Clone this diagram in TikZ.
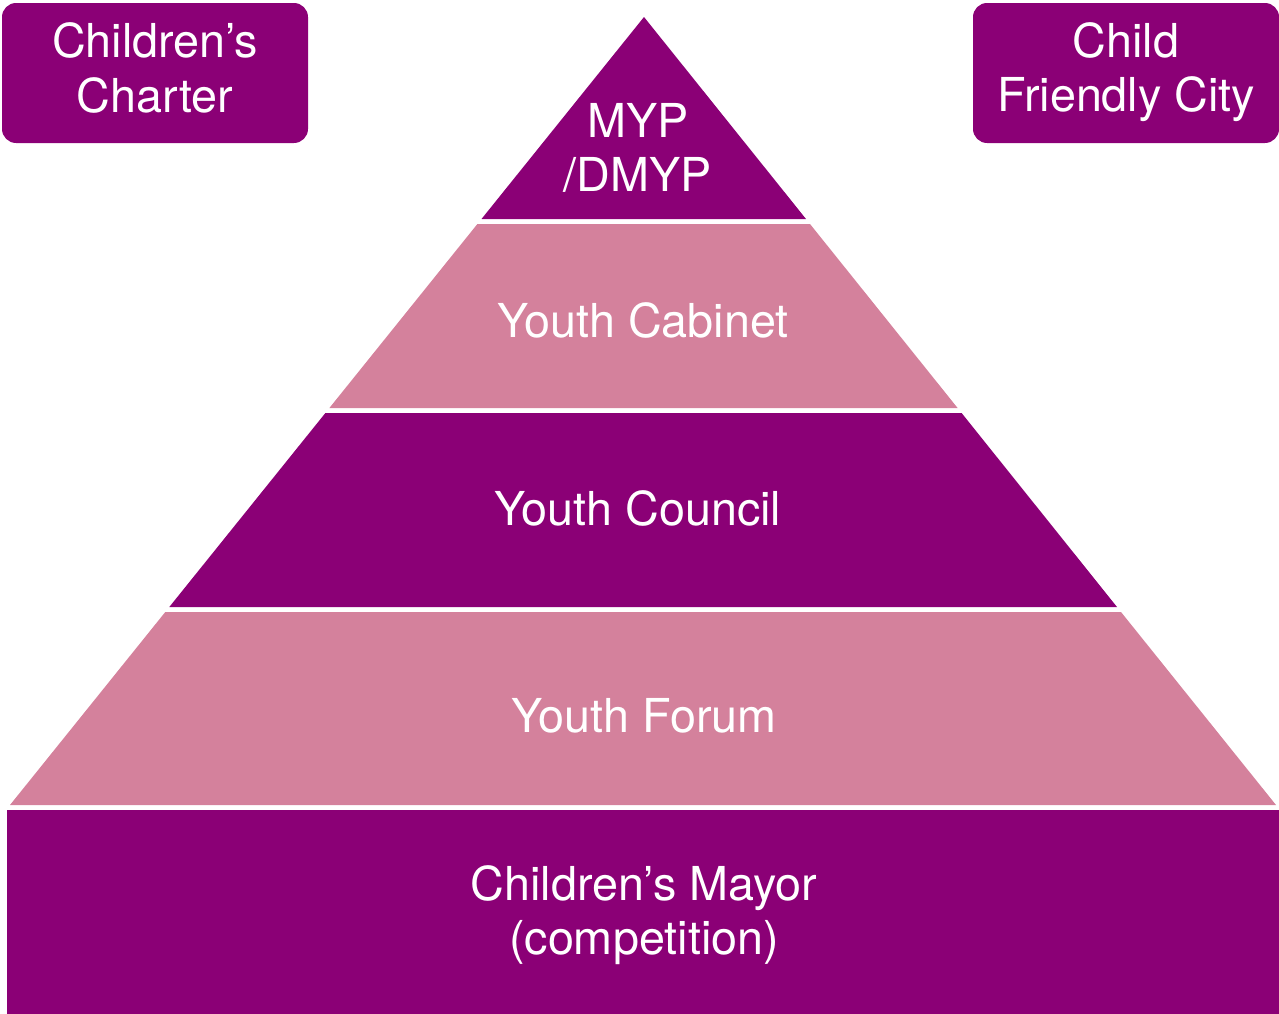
\documentclass[tikz,border=0pt]{standalone}
\usepackage{fontspec}
\setmainfont{TeX Gyre Heros}
\usepackage{tikz}
\definecolor{plum}{HTML}{8B0076}
\definecolor{rose}{HTML}{D4819C}
\tikzstyle{label} = [text=white, inner sep=0pt, align=center, font=\fontsize{26.6}{31}\selectfont]
\tikzstyle{tier} = [draw=none]

\begin{document}
\begin{tikzpicture}[x=0.02cm, y=-0.02cm]
        \useasboundingbox (0,0) rectangle (1279,1014);
        % corner boxes
        \fill [plum, rounded corners=8] (2,3) rectangle (308,143);
        \fill [plum, rounded corners=8] (973,3) rectangle (1279,143);
        % pyramid
        \fill [tier, plum] (644,17) -- (806,219) -- (481.5,219) -- cycle;
        \fill [tier, rose] (477.4,224) -- (810,224) -- (957.6,408) -- (329.4,408) -- cycle;
        \fill [tier, plum] (325.4,413) -- (961.6,413) -- (1117,607) -- (169.3,607) -- cycle;
        \fill [tier, rose] (165.3,612) -- (1121,612) -- (1276,805) -- (10,805) -- cycle;
        \fill [tier, plum] (7,810) rectangle (1279,1014);
        \node (charter) [label] at (155,68) {Children’s\\Charter};
        \node (city) [label] at (1126,72) {Child\\Friendly City};
        \node (myp) [label] at (638,148) {MYP\\/DMYP};
        \node (cabinet) [label, anchor=base] at (643,337) {Youth Cabinet};
        \node (council) [label, anchor=base] at (638,525) {Youth Council};
        \node (forum) [label, anchor=base] at (644,732) {Youth Forum};
        \node (mayor) [label] at (644,915) {Children’s Mayor\\(competition)};
    \end{tikzpicture}
\end{document}
